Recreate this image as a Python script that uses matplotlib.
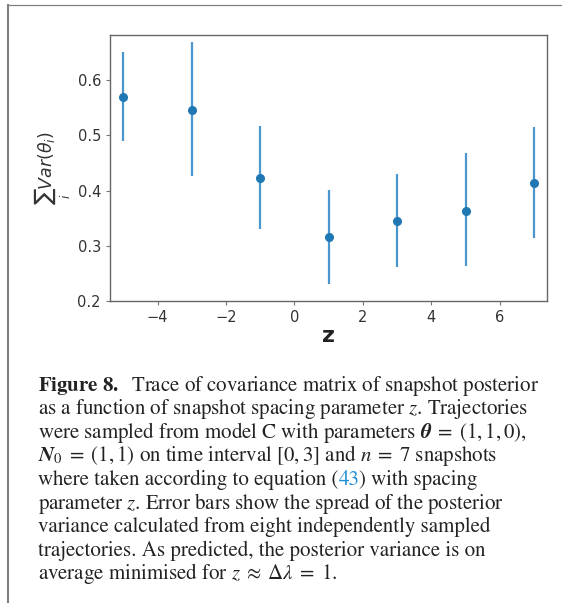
import numpy as np
import matplotlib
matplotlib.use("Agg")
import matplotlib.pyplot as plt
from matplotlib.lines import Line2D

# snapshot spacing parameter and posterior variance trace
z_vals = [-5, -3, -1, 1, 3, 5, 7]
var_mean = [0.569, 0.546, 0.422, 0.315, 0.344, 0.363, 0.414]
var_low = [0.490, 0.427, 0.330, 0.231, 0.262, 0.263, 0.314]
var_high = [0.650, 0.668, 0.517, 0.401, 0.429, 0.467, 0.515]

x_ticks = [-4, -2, 0, 2, 4, 6]
y_ticks = [0.2, 0.3, 0.4, 0.5, 0.6]

caption = [
    r"$\mathbf{Figure\ 8.}$  Trace of covariance matrix of snapshot posterior",
    r"as a function of snapshot spacing parameter $z$. Trajectories",
    r"were sampled from model C with parameters $\boldsymbol{\theta}\;=\;(1, 1, 0)$,",
    r"$\boldsymbol{N}_0\;=\;(1, 1)$ on time interval $[0, 3]$ and $n\;=\;7$ snapshots",
    None,  # line with the blue equation reference
    r"parameter $z$. Error bars show the spread of the posterior",
    r"variance calculated from eight independently sampled",
    r"trajectories. As predicted, the posterior variance is on",
    r"average minimised for $z\;\approx\;\Delta\lambda\;=\;1$.",
]
ref_line = ["where taken according to equation (", "43", ") with spacing"]

W, H = 562, 603
fig = plt.figure(figsize=(W / 100, H / 100), dpi=100)
ax = fig.add_axes([110 / W, 1 - 301 / H, (546.7 - 110) / W, (301 - 34.7) / H])

mean = np.array(var_mean)
yerr = [mean - np.array(var_low), np.array(var_high) - mean]
ax.errorbar(z_vals, var_mean, yerr=yerr, fmt='o', color='#1f77b4',
            ecolor='#4a97cf', elinewidth=1.6, markersize=5.5)

ax.set_xlim(-5.39, 7.37)
ax.set_ylim(0.2, 0.682)
ax.set_xticks(x_ticks)
ax.set_yticks(y_ticks)
ax.set_xticklabels([str(t).replace('-', '\u2212') for t in x_ticks])
ax.set_yticklabels(["%.1f" % t for t in y_ticks])
ax.tick_params(labelsize=10.5, colors='#333333', length=3, color='#777777')
for s in ax.spines.values():
    s.set_color('#666666')
    s.set_linewidth(1.0)

ax.set_xlabel('z', fontsize=16, fontweight='bold', color='#222222', labelpad=1)
ax.set_ylabel(r'$\sum_i Var(\theta_i)$', fontsize=12.5, color='#333333', labelpad=3)

# page frame
fig.add_artist(Line2D([8 / W, 8 / W], [1 - 4.5 / H, 0], transform=fig.transFigure,
                      color='#808080', lw=1.5))
fig.add_artist(Line2D([8 / W, 1], [1 - 4.5 / H, 1 - 4.5 / H], transform=fig.transFigure,
                      color='#808080', lw=0.9))

fs = 15
txt_kw = dict(fontsize=fs, family='STIXGeneral', math_fontfamily='stix', color='#222222')
x0 = 38 / W
for k, line in enumerate(caption):
    yb = 1 - (390.5 + k * 23.6) / H
    if line is not None:
        fig.text(x0, yb, line, va='baseline', ha='left', **txt_kw)
    else:
        t = fig.text(x0, yb, ref_line[0], va='baseline', ha='left', **txt_kw)
        a = ax.annotate(ref_line[1], xy=(1, 0), xycoords=t, va='bottom', ha='left',
                        annotation_clip=False,
                        **{**txt_kw, 'color': '#1f8fd6'})
        ax.annotate(ref_line[2], xy=(1, 0), xycoords=a, va='bottom', ha='left',
                    annotation_clip=False, **txt_kw)

fig.savefig('out.png', dpi=100)
